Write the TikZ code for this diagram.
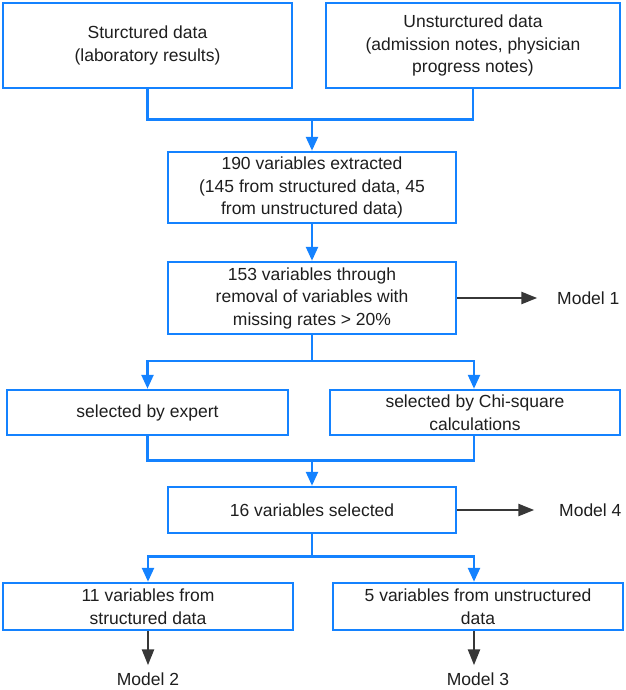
\documentclass[tikz,border=0pt]{standalone}
\usepackage{fontspec}
\setmainfont{Liberation Sans}
\usetikzlibrary{arrows.meta}
\definecolor{bl}{RGB}{20,130,255}
\definecolor{dk}{RGB}{55,55,55}
\definecolor{tx}{RGB}{30,30,30}
\begin{document}
\begin{tikzpicture}[x=1pt,y=-1pt,
  box/.style={draw=bl,line width=2.5pt,rectangle,inner sep=0pt,align=center,text=tx,
    font=\fontsize{17.5}{22.5}\selectfont},
  lbl/.style={text=tx,font=\fontsize{17.5}{22.5}\selectfont,inner sep=0pt},
  bline/.style={draw=bl,line width=2.5pt},
  barrow/.style={bline,-{Triangle[length=14pt,width=12pt]}},
  darrow/.style={draw=dk,line width=2.5pt,-{Triangle[length=16pt,width=12pt]}}]
\useasboundingbox (0,0) rectangle (625,690);
\node[box,minimum width=289pt,minimum height=85pt] (A) at (147.5,45.5) {Sturctured data\\(laboratory results)};
\node[box,minimum width=294pt,minimum height=85pt] (B) at (473,45.5) {Unsturctured data\\(admission notes, physician\\progress notes)};
\node[box,minimum width=288pt,minimum height=71pt] (C) at (312,187.5) {190 variables extracted\\(145 from structured data, 45\\from unstructured data)};
\node[box,minimum width=288pt,minimum height=72pt] (D) at (312,298) {153 variables through\\removal of variables with\\missing rates > 20\%};
\node[box,minimum width=281pt,minimum height=45pt] (E) at (147.5,412.5) {selected by expert};
\node[box,minimum width=290pt,minimum height=45pt] (F) at (475,412.5) {selected by Chi-square\\calculations};
\node[box,minimum width=288pt,minimum height=46pt] (G) at (312,510) {16 variables selected};
\node[box,minimum width=290pt,minimum height=47pt] (H) at (148,606.5) {11 variables from\\structured data};
\node[box,minimum width=290pt,minimum height=47pt] (I) at (478,606.5) {5 variables from unstructured\\data};
\node[lbl,anchor=west] (M1) at (557,298) {Model 1};
\node[lbl,anchor=west] (M4) at (559,510) {Model 4};
\node[lbl] (M2) at (148,679) {Model 2};
\node[lbl] (M3) at (478,679) {Model 3};
\coordinate (j1) at (312,119.5);
\coordinate (j2) at (312,361);
\coordinate (j3) at (312,460.5);
\coordinate (j4) at (312,556.5);
% top merge
\draw[bline] (A.south) |- (j1);
\draw[bline] (B.south) |- (j1);
\draw[barrow] (j1) -- (C.north);
\draw[barrow] (C.south) -- (D.north);
% split
\draw[bline] (D.south) -- (j2);
\draw[barrow] (j2) -| (E.north);
\draw[barrow] (j2) -| ([xshift=-1pt]F.north);
% merge
\draw[bline] (E.south) |- (j3);
\draw[bline] ([xshift=-1pt]F.south) |- (j3);
\draw[barrow] (j3) -- (G.north);
% split
\draw[bline] (G.south) -- (j4);
\draw[barrow] (j4) -| (H.north);
\draw[barrow] (j4) -| ([xshift=-4pt]I.north);
% model arrows
\draw[darrow] (D.east) -- ++(80,0) coordinate (d1);
\draw[darrow] (G.east) -- ++(77,0) coordinate (d4);
\draw[darrow] (H.south) -- ++(0,34) coordinate (d2);
\draw[darrow] ([xshift=-4pt]I.south) -- ++(0,34) coordinate (d3);
\end{tikzpicture}
\end{document}
